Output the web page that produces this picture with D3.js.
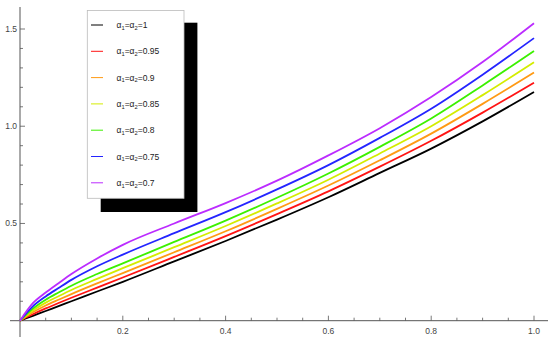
<!DOCTYPE html>
<html><head><meta charset="utf-8">
<script src="https://cdn.jsdelivr.net/npm/d3@7"></script>
<style>body{margin:0;background:#fff}svg{display:block}</style>
</head><body>
<svg id="c" width="550" height="342"></svg>
<script>
const xs = [0,0.025,0.05,0.075,0.1,0.15,0.2,0.3,0.4,0.5,0.6,0.7,0.8,0.9,1.0];
const alphaLabels = ["1","0.95","0.9","0.85","0.8","0.75","0.7"];
const colors = ["#000000","#ff1414","#ff9a14","#d4ec00","#3cf000","#2424ff","#bb2cff"];
const s_100 = [0,0.025,0.05,0.075,0.10,0.15,0.20,0.305,0.41,0.52,0.635,0.76,0.885,1.025,1.176];
const s_095 = [0,0.033,0.063,0.091,0.118,0.17,0.222,0.328,0.435,0.548,0.665,0.792,0.925,1.07,1.224];
const s_090 = [0,0.043,0.078,0.108,0.137,0.192,0.245,0.352,0.46,0.575,0.695,0.825,0.962,1.115,1.276];
const s_085 = [0,0.052,0.093,0.126,0.158,0.215,0.27,0.378,0.487,0.603,0.725,0.86,1.0,1.16,1.329];
const s_080 = [0,0.062,0.108,0.145,0.18,0.24,0.295,0.405,0.515,0.632,0.757,0.894,1.04,1.21,1.387];
const s_075 = [0,0.074,0.125,0.168,0.21,0.28,0.34,0.45,0.558,0.675,0.80,0.94,1.09,1.265,1.453];
const s_070 = [0,0.09,0.145,0.193,0.24,0.32,0.39,0.50,0.605,0.72,0.85,0.99,1.15,1.33,1.53];
const series = [s_100,s_095,s_090,s_085,s_080,s_075,s_070];
const xTickLabels = [0.2,0.4,0.6,0.8,1.0];
const yTickLabels = [0.5,1.0,1.5];

const svg = d3.select("#c");
const x = d3.scaleLinear().domain([0,1]).range([20,534]);
const y = d3.scaleLinear().domain([0,1.5]).range([320.7,29]);
const axisColor = "#555";
const labelFont = "Liberation Sans, Arial, sans-serif";

svg.append("line").attr("x1",10).attr("x2",548).attr("y1",y(0)).attr("y2",y(0))
  .attr("stroke",axisColor).attr("stroke-width",1);
svg.append("line").attr("x1",x(0)).attr("x2",x(0)).attr("y1",7).attr("y2",337)
  .attr("stroke",axisColor).attr("stroke-width",1);

d3.range(1,21).map(i=>i*0.05).forEach(v=>{
  const major = Math.abs(Math.round(v*10)-v*10)<1e-6 && Math.round(v*10)%2===0;
  svg.append("line").attr("x1",x(v)).attr("x2",x(v)).attr("y1",y(0)).attr("y2",y(0)-(major?5:3))
    .attr("stroke",axisColor).attr("stroke-width",0.8);
});
svg.selectAll(".xl").data(xTickLabels).enter().append("text")
  .attr("x",d=>x(d)).attr("y",y(0)+13).attr("text-anchor","middle")
  .attr("font-family",labelFont).attr("font-size",8.5).attr("fill","#444")
  .text(d=>d3.format(".1f")(d));
d3.range(1,16).map(i=>i*0.1).forEach(v=>{
  const major = Math.round(v*10)%5===0;
  svg.append("line").attr("x1",x(0)).attr("x2",x(0)+(major?5:3)).attr("y1",y(v)).attr("y2",y(v))
    .attr("stroke",axisColor).attr("stroke-width",0.8);
});
svg.selectAll(".yl").data(yTickLabels).enter().append("text")
  .attr("x",x(0)-3).attr("y",d=>y(d)+3).attr("text-anchor","end")
  .attr("font-family",labelFont).attr("font-size",8.5).attr("fill","#444")
  .text(d=>d3.format(".1f")(d));

const line = d3.line().x(d=>x(d[0])).y(d=>y(d[1])).curve(d3.curveMonotoneX);
series.forEach((s,i)=>{
  svg.append("path").datum(xs.map((v,j)=>[v,s[j]])).attr("d",line)
    .attr("fill","none").attr("stroke",colors[i]).attr("stroke-width",1.8);
});

const lg = svg.append("g");
lg.append("rect").attr("x",100.7).attr("y",22.7).attr("width",96.7).attr("height",189.3).attr("fill","#000");
lg.append("rect").attr("x",87.3).attr("y",10.5).attr("width",96.7).attr("height",187.8)
  .attr("fill","#fff").attr("stroke","#bbb").attr("stroke-width",0.8);
alphaLabels.forEach((a,i)=>{
  const yy = 25 + i*26.3;
  lg.append("line").attr("x1",91).attr("x2",103).attr("y1",yy).attr("y2",yy)
    .attr("stroke",colors[i]).attr("stroke-width",1);
  const t = lg.append("text").attr("x",116.5).attr("y",yy+3)
    .attr("font-family",labelFont).attr("font-size",8.5).attr("fill","#222");
  t.append("tspan").text("α");
  t.append("tspan").attr("font-size",5.8).attr("dy",1.8).text("1");
  t.append("tspan").attr("dy",-1.8).text("=α");
  t.append("tspan").attr("font-size",5.8).attr("dy",1.8).text("2");
  t.append("tspan").attr("dy",-1.8).text("="+a);
});
</script>
</body></html>
